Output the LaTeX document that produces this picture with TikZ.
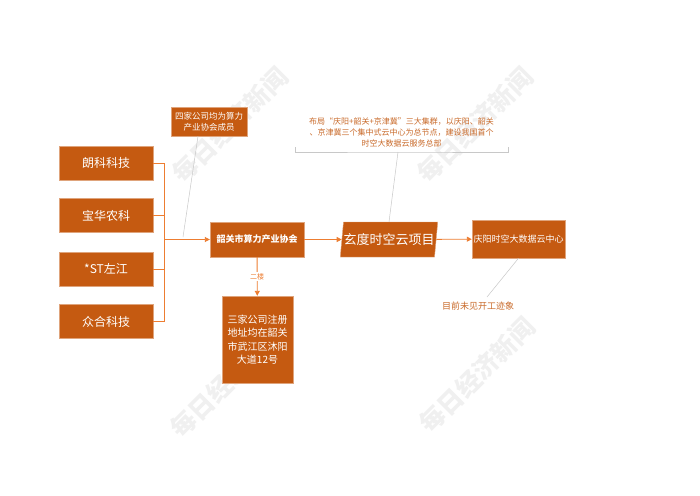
\documentclass[tikz,border=0pt]{standalone}
\usepackage{fontspec}
\setmainfont{Noto Sans CJK SC}
\usepackage{tikz}
\usetikzlibrary{arrows.meta,shapes.geometric}
\definecolor{boxorange}{HTML}{C55A11}
\definecolor{lineorange}{HTML}{ED7D31}
\definecolor{notegray}{HTML}{C8C8C8}

\begin{document}
\begin{tikzpicture}[x=1pt,y=-1pt,
	orangebox/.style={shape=rectangle,fill=boxorange,draw=boxorange!55,text=white,inner sep=0pt,align=center},
	firm/.style={orangebox,minimum width=94pt,minimum height=34pt,font=\fontsize{12}{14}\selectfont},
	flow/.style={draw=lineorange,line width=0.9pt,-{Triangle[length=5pt,width=5pt]}},
	brace/.style={draw=lineorange,line width=0.9pt},
	pointer/.style={draw=notegray,line width=0.5pt},
	notetext/.style={text=lineorange!85!black,align=center,inner sep=0pt},
	wmark/.style={text=black!6,rotate=45,font=\fontsize{25}{25}\selectfont\bfseries}]
	\fill[white] (0,0) rectangle (700,495);
	\useasboundingbox (0,0) rectangle (700,495);
	
	% watermarks
	\node[wmark] (wm1) at (230,125) {每日经济新闻};
	\node[wmark] (wm2) at (475,125) {每日经济新闻};
	\node[wmark] (wm3) at (228,380) {每日经济新闻};
	\node[wmark] (wm4) at (477,375) {每日经济新闻};
	
	% companies
	\node[firm] (langke) at (106,163) {朗科科技};
	\node[firm] (baohua) at (106,215.5) {宝华农科};
	\node[firm] (zuojiang) at (106,269) {*ST左江};
	\node[firm] (zhonghe) at (106,321.5) {众合科技};
	\coordinate (join) at (164,239.5);
	\coordinate (jtop) at (164,163);
	\coordinate (jbot) at (164,321.5);
	
	\node[orangebox,minimum width=94pt,minimum height=35pt,font=\fontsize{9}{11}\selectfont\bfseries] (xiehui) at (257,239.5) {韶关市算力产业协会};
	\node[orangebox,minimum width=76pt,minimum height=29pt,font=\fontsize{8.5}{11}\selectfont] (members) at (209,121.5) {四家公司均为算力\\产业协会成员};
	\node[orangebox,minimum width=71pt,minimum height=87pt,font=\fontsize{10}{13.5}\selectfont] (address) at (257.5,339.5) {三家公司注册\\地址均在韶关\\市武江区沐阳\\大道12号};
	\node[orangebox,shape=trapezium,trapezium left angle=75,trapezium right angle=105,trapezium stretches=true,minimum width=92pt,minimum height=35pt,font=\fontsize{13}{15}\selectfont] (xuandu) at (389,239.5) {玄度时空云项目};
	\node[orangebox,minimum width=93pt,minimum height=38pt,font=\fontsize{9}{11}\selectfont] (qingyang) at (518.5,239) {庆阳时空大数据云中心};
	
	% notes
	\node[notetext,font=\fontsize{8}{11}\selectfont] (layout) at (401.5,132) {布局“庆阳+韶关+京津冀”三大集群，以庆阳、韶关\\、京津冀三个集中式云中心为总节点，建设我国首个\\时空大数据云服务总部};
	\node[notetext,font=\fontsize{9}{11}\selectfont] (nowork) at (478,306) {目前未见开工迹象};
	\coordinate (bl) at (295,147);
	\coordinate (br) at (508,147);
	\coordinate (bm) at (398,152);
	\coordinate (mtip) at (183,237);
	\coordinate (ntip) at (487,297);
	
	\path[brace] (langke) -- (jtop);
	\path[brace] (baohua.east) -- (164,215.5);
	\path[brace] (zuojiang.east) -- (164,269);
	\path[brace] (zhonghe) -- (jbot);
	\path[brace] (jtop) -- (jbot);
	\path[flow] (join) -- (xiehui);
	\path[flow] (xiehui) -- (xuandu);
	\path[flow] (xuandu) -- (qingyang);
	\path[flow] (xiehui) -- node[fill=white,inner sep=1pt,text=lineorange,font=\fontsize{7}{8}\selectfont] {二楼} (address);
	
	\path[pointer] (members.south) ++(-11,0) -- (mtip);
	\path[pointer] (bl) |- (bm) -| (br);
	\path[pointer] (bm) -- (xuandu.north);
	\path[pointer] (qingyang.south) -- (ntip);
\end{tikzpicture}
\end{document}
